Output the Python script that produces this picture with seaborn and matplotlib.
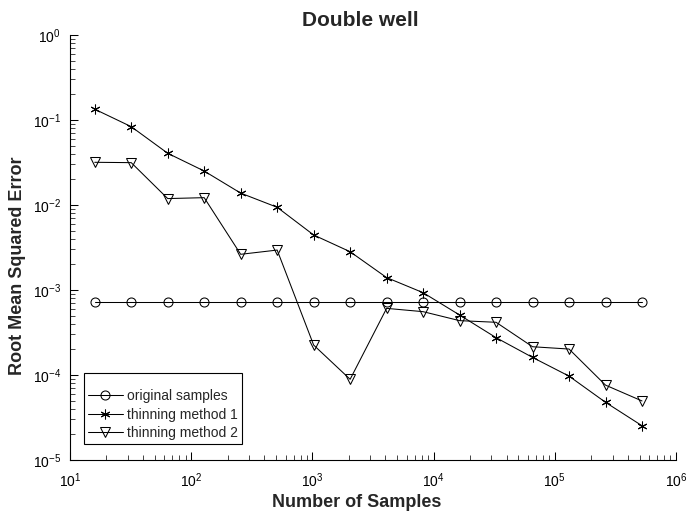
import numpy as np
import pandas as pd
import matplotlib
matplotlib.use("Agg")
import matplotlib.pyplot as plt
import seaborn as sns

n_samples = [16, 32, 64, 128, 256, 512, 1024, 2048, 4096, 8192, 16384,
             32768, 65536, 131072, 262144, 524288]
original = [7.15e-4] * 16
thin1 = [0.134, 0.0835, 0.0406, 0.0251, 0.0138, 0.0094, 0.00444, 0.00282,
         0.0014, 0.00093, 0.000508, 0.000275, 0.000161, 9.7e-5, 4.77e-5, 2.53e-5]
thin2 = [0.0318, 0.0315, 0.0119, 0.0122, 0.00263, 0.00295, 2.25e-4, 8.9e-5,
         6.08e-4, 5.56e-4, 4.36e-4, 4.17e-4, 2.15e-4, 2.02e-4, 7.6e-5, 4.95e-5]
labels = ["original samples", "thinning method 1", "thinning method 2"]

sns.set_style("white")
plt.rcParams["font.family"] = ["Liberation Sans", "DejaVu Sans"]
plt.rcParams["mathtext.fontset"] = "custom"
plt.rcParams["mathtext.rm"] = "Liberation Sans"
plt.rcParams["mathtext.it"] = "Liberation Sans"

fig = plt.figure(figsize=(6.9, 5.12), dpi=100)
ax = fig.add_axes([70/690, 52/512, 606/690, 425/512])

df = pd.DataFrame({"n": n_samples, "orig": original, "t1": thin1, "t2": thin2})
common = dict(color="black", linewidth=0.75, markeredgewidth=0.75)
sns.lineplot(data=df, x="n", y="orig", ax=ax, marker="o", markersize=6.5,
             markerfacecolor="none", markeredgecolor="black", label=labels[0], **common)
sns.lineplot(data=df, x="n", y="t1", ax=ax, marker=(6, 2, 0), markersize=7,
             markeredgecolor="black", label=labels[1], **common)
sns.lineplot(data=df, x="n", y="t2", ax=ax, marker="v", markersize=7.5,
             markerfacecolor="none", markeredgecolor="black", label=labels[2], **common)

ax.set_xscale("log")
ax.set_yscale("log")
ax.set_xlim(10, 1e6)
ax.set_ylim(1e-5, 1)
ax.set_xticks([10**k for k in range(1, 7)])
ax.set_yticks([10.0**k for k in range(-5, 1)])
ax.xaxis.set_minor_locator(matplotlib.ticker.LogLocator(base=10, subs=np.arange(2, 10)))
ax.yaxis.set_minor_locator(matplotlib.ticker.LogLocator(base=10, subs=np.arange(2, 10)))
ax.xaxis.set_minor_formatter(matplotlib.ticker.NullFormatter())
ax.yaxis.set_minor_formatter(matplotlib.ticker.NullFormatter())

for s in ["top", "right"]:
    ax.spines[s].set_visible(False)
for s in ["left", "bottom"]:
    ax.spines[s].set_linewidth(0.8)
    ax.spines[s].set_color("black")
ax.tick_params(which="major", direction="in", length=5.5, width=0.75, labelsize=10,
               colors="black", bottom=True, left=True)
ax.tick_params(axis="x", which="major", pad=8)
ax.tick_params(axis="y", which="major", pad=6.5)
ax.tick_params(which="minor", direction="in", length=3.5, width=0.6,
               bottom=True, left=True)

ax.set_title("Double well", fontsize=15, fontweight="bold", x=(360-70)/606,
             y=(460-26)/425, va="baseline", pad=0)
ax.set_xlabel("Number of Samples", fontsize=13, fontweight="bold")
ax.xaxis.set_label_coords((357-70)/606, (460-494)/425)
ax.set_ylabel("Root Mean Squared Error", fontsize=13, fontweight="bold")
ax.yaxis.set_label_coords((26-70)/606, (460-265.5)/425)

leg = ax.legend(loc="lower left", bbox_to_anchor=(14/606, 16/425), borderaxespad=0,
                fontsize=10, frameon=True, fancybox=False, edgecolor="black",
                framealpha=1, handlelength=2.5, borderpad=0.28, labelspacing=0.33,
                handletextpad=0.3, title=" ", title_fontsize=5)
leg.get_frame().set_linewidth(0.8)

fig.savefig("out.png", dpi=100)
